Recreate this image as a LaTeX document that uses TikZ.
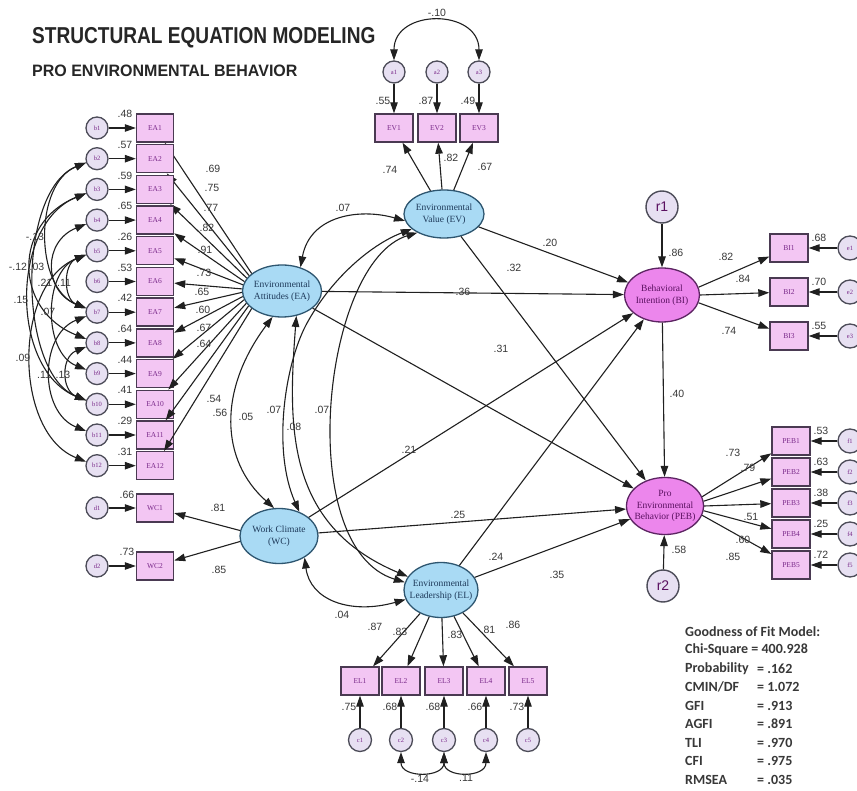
\documentclass[tikz,border=0pt]{standalone}
\usepackage{graphicx}
\usepackage{fontspec}
\setmainfont{Liberation Serif}
\setsansfont{Liberation Sans}
\newfontfamily\fitfont{Carlito}
\usetikzlibrary{shapes.geometric,arrows.meta}

\definecolor{boxfill}{HTML}{F3C6F3}
\definecolor{boxline}{HTML}{4A3A52}
\definecolor{boxtext}{HTML}{7A2A8A}
\definecolor{latblue}{HTML}{A9DAF4}
\definecolor{latblueline}{HTML}{2E5670}
\definecolor{lattext}{HTML}{1E3A5A}
\definecolor{latpink}{HTML}{EC86EC}
\definecolor{latpinkline}{HTML}{5C2462}
\definecolor{pinktext}{HTML}{5A1060}
\definecolor{errfill}{HTML}{E7E0F2}
\definecolor{errline}{HTML}{4C4C58}
\definecolor{inkline}{HTML}{202020}
\definecolor{numtext}{HTML}{383838}
\definecolor{titletext}{HTML}{262626}

\tikzset{
  >={Triangle[length=11pt,width=7.5pt]},
  ind/.style={rectangle, draw=boxline, fill=boxfill, line width=1.4pt,
    minimum width=37pt, minimum height=28pt, inner sep=0pt, text=boxtext,
    font=\fontsize{7.5}{7.5}\selectfont},
  err/.style={circle, draw=errline, fill=errfill, line width=1.3pt,
    minimum size=22pt, inner sep=0pt, text=boxtext, font=\fontsize{6.5}{6.5}\selectfont},
  res/.style={circle, draw=errline, fill=errfill, line width=1.4pt,
    minimum size=32pt, inner sep=0pt, text=pinktext, font=\sffamily\fontsize{14}{14}\selectfont},
  exo/.style={ellipse, draw=latblueline, fill=latblue, line width=1.3pt, inner sep=0pt},
  endo/.style={ellipse, draw=latpinkline, fill=latpink, line width=1.3pt, inner sep=0pt},
  exotext/.style={inner sep=0pt, align=center, text=lattext, font=\fontsize{9.5}{11.5}\selectfont},
  endotext/.style={exotext, text=pinktext},
  lbl/.style={inner sep=0pt, text=numtext, font=\sffamily\fontsize{10.5}{10.5}\selectfont},
  pth/.style={draw=inkline, line width=1.1pt, ->},
  cov/.style={draw=inkline, line width=1.1pt, <->},
}

\begin{document}
\begin{tikzpicture}[x=1pt,y=-1pt]
\useasboundingbox (0,0) rectangle (857,791);
\fill[white] (0,0) rectangle (857,791);

% ---------- headings ----------
\node[anchor=west, inner sep=0pt, text=titletext] (head) at (32,38)
  {\scalebox{0.83}[1]{\sffamily\bfseries\fontsize{23}{23}\selectfont STRUCTURAL EQUATION MODELING}};
\node[anchor=west, inner sep=0pt, text=titletext] (subhead) at (32,71)
  {\scalebox{0.97}[1]{\sffamily\bfseries\fontsize{16.5}{16.5}\selectfont PRO ENVIRONMENTAL BEHAVIOR}};

% ---------- latent variables ----------
\node[exo, minimum width=79pt, minimum height=52pt] (EA) at (282,291) {};
\node[exotext] (EAtext) at (EA) {Environmental\\Attitudes (EA)};
\node[exo, minimum width=80pt, minimum height=48pt] (EV) at (444,214) {};
\node[exotext] (EVtext) at (EV) {Environmental\\Value (EV)};
\node[exo, minimum width=78pt, minimum height=55pt] (WC) at (279,536) {};
\node[exotext] (WCtext) at (WC) {Work Climate\\(WC)};
\node[exo, minimum width=74pt, minimum height=55pt] (EL) at (441,590) {};
\node[exotext] (ELtext) at (EL) {Environmental\\Leadership (EL)};
\node[endo, minimum width=75pt, minimum height=54pt] (BI) at (662,295) {};
\node[endotext] (BItext) at (BI) {Behavioral\\Intention (BI)};
\node[endo, minimum width=77pt, minimum height=57pt] (PEB) at (665,506) {};
\node[endotext] (PEBtext) at (PEB) {Pro\\Environmental\\Behavior (PEB)};
\node[res] (r1) at (662,207) {r1};
\node[res] (r2) at (663,586) {r2};

% ---------- EA measurement block ----------
\foreach \i/\v in {1/.48,2/.57,3/.59,4/.65,5/.26,6/.53,7/.42,8/.64,9/.44,10/.41,11/.29,12/.31}{
  \pgfmathsetmacro\yy{128+30.7*(\i-1)}
  \pgfmathtruncatemacro\ang{150+(\i-1)*60/11}
  \node[ind] (EA\i) at (155,\yy) {EA\i};
  \node[err] (ea\i) at (97,\yy) {b\i};
  \draw[pth] (ea\i) -- (EA\i);
  \draw[pth] (EA.\ang) -- (EA\i);
  \node[lbl] (vea\i) at (125,\yy-14) {\v};
}
\foreach \x/\y/\s [count=\k] in {213/169/.69, 212/188/.75, 211/208/.77, 207/228/.82,
    205/250/.91, 204/273/.73, 202/292/.65, 203/310/.60, 204/328/.67, 204/344/.64,
    214/399/.54, 220/413/.56}
  \node[lbl] (lea\k) at (\x,\y) {\s};

% correlated EA error terms
\foreach \p/\q/\c in {2/7/52, 3/8/73, 4/7/43, 2/10/69, 5/7/23, 3/10/76, 5/9/43,
    5/12/73, 7/11/47, 8/10/25}
  \draw[cov] (ea\p.200) .. controls +(-\c,0.4*\c) and +(-\c,-0.4*\c) .. (ea\q.160);
\foreach \x/\y/\s [count=\k] in {35/237/-.13, 18/267/-.12, 37/267/.03, 45/283/.21,
    64/283/.11, 21/300/.15, 48/312/.07, 23/358/.09, 44/375/.11, 63/375/.13}
  \node[lbl] (cea\k) at (\x,\y) {\s};

% ---------- WC measurement block ----------
\node[ind] (WC1) at (155,508) {WC1};
\node[ind] (WC2) at (155,566) {WC2};
\node[err] (wd1) at (97,508) {d1};
\node[err] (wd2) at (97,566) {d2};
\draw[pth] (wd1) -- (WC1);
\draw[pth] (wd2) -- (WC2);
\draw[pth] (WC.172) -- (WC1);
\draw[pth] (WC.188) -- (WC2);
\node[lbl] (vwc1) at (127,495) {.66};
\node[lbl] (vwc2) at (127,552) {.73};
\node[lbl] (lwc1) at (218,508) {.81};
\node[lbl] (lwc2) at (219,570) {.85};

% ---------- EV measurement block ----------
\foreach \i/\x/\v in {1/394/.55, 2/437/.87, 3/479/.49}{
  \node[ind, minimum width=38pt, minimum height=28pt] (EV\i) at (\x,128) {EV\i};
  \node[err] (a\i) at (\x,72) {a\i};
  \draw[pth] (a\i) -- (EV\i);
  \draw[pth] (EV) -- (EV\i);
  \node[lbl] (vev\i) at (\x-11,101) {\v};
}
\node[lbl] (lev1) at (390,170) {.74};
\node[lbl] (lev2) at (451,158) {.82};
\node[lbl] (lev3) at (485,167) {.67};
\draw[cov] (a1.north) .. controls +(0,-52) and +(0,-52) .. (a3.north);
\node[lbl] (cev) at (437,13) {-.10};

% ---------- BI measurement block ----------
\foreach \i/\y/\v/\a in {1/248/.68/12, 2/292/.70/0, 3/336/.55/-12}{
  \node[ind, minimum width=38pt, minimum height=28pt] (BI\i) at (789,\y) {BI\i};
  \node[err, minimum size=24pt] (be\i) at (850,\y) {e\i};
  \draw[pth] (be\i) -- (BI\i);
  \draw[pth] (BI.\a) -- (BI\i);
  \node[lbl] (vbi\i) at (819,\y-10) {\v};
}
\node[lbl] (lbi1) at (726,257) {.82};
\node[lbl] (lbi2) at (743,279) {.84};
\node[lbl] (lbi3) at (729,331) {.74};

% ---------- PEB measurement block ----------
\foreach \i/\v/\a in {1/.53/14, 2/.63/7, 3/.38/0, 4/.25/-7, 5/.72/-14}{
  \pgfmathsetmacro\yy{441+31*(\i-1)}
  \node[ind, minimum width=38pt, minimum height=28pt] (PEB\i) at (791,\yy) {PEB\i};
  \node[err, minimum size=24pt] (pf\i) at (850,\yy) {f\i};
  \draw[pth] (pf\i) -- (PEB\i);
  \draw[pth] (PEB.\a) -- (PEB\i);
  \node[lbl] (vpeb\i) at (821,\yy-10) {\v};
}
\node[lbl] (lpeb1) at (733,453) {.73};
\node[lbl] (lpeb2) at (748,468) {.79};
\node[lbl] (lpeb3) at (751,517) {.51};
\node[lbl] (lpeb4) at (743,540) {.60};
\node[lbl] (lpeb5) at (733,557) {.85};

% ---------- EL measurement block ----------
\foreach \i/\x/\v in {1/360/.75, 2/401/.68, 3/444/.68, 4/486/.66, 5/528/.73}{
  \node[ind, minimum width=38pt, minimum height=28pt] (EL\i) at (\x,681) {EL\i};
  \node[err, minimum size=23pt] (c\i) at (\x,740) {c\i};
  \draw[pth] (c\i) -- (EL\i);
  \draw[pth] (EL) -- (EL\i);
  \node[lbl] (vel\i) at (\x-11,707) {\v};
}
\node[lbl] (lel1) at (375,627) {.87};
\node[lbl] (lel2) at (400,632) {.83};
\node[lbl] (lel3) at (455,635) {.83};
\node[lbl] (lel4) at (488,630) {.81};
\node[lbl] (lel5) at (513,625) {.86};
\draw[cov] (c2.south) .. controls +(0,26) and +(0,26) .. (c3.south);
\draw[cov] (c3.south) .. controls +(0,26) and +(0,26) .. (c4.south);
\node[lbl] (cel1) at (420,779) {-.14};
\node[lbl] (cel2) at (466,778) {.11};

% ---------- structural paths ----------
\draw[pth] (EA) -- (BI);
\draw[pth] (EV) -- (BI);
\draw[pth] (EV) -- (PEB);
\draw[pth] (EA) -- (PEB);
\draw[pth] (WC) -- (BI);
\draw[pth] (WC) -- (PEB);
\draw[pth] (EL) -- (BI);
\draw[pth] (EL) -- (PEB);
\draw[pth] (BI) -- (PEB);
\draw[pth] (r1) -- (BI);
\draw[pth] (r2) -- (PEB);
\node[lbl] (s1) at (463,292) {.36};
\node[lbl] (s2) at (550,243) {.20};
\node[lbl] (s3) at (514,268) {.32};
\node[lbl] (s4) at (501,349) {.31};
\node[lbl] (s5) at (409,450) {.21};
\node[lbl] (s6) at (458,515) {.25};
\node[lbl] (s7) at (496,557) {.24};
\node[lbl] (s8) at (557,575) {.35};
\node[lbl] (s9) at (677,394) {.40};
\node[lbl] (s10) at (676,253) {.86};
\node[lbl] (s11) at (679,550) {.58};

% ---------- covariances among exogenous factors ----------
\draw[cov] (EA.52) .. controls (310,215) and (360,208) .. (EV.190);
\draw[cov] (EA.250) .. controls (218,390) and (220,460) .. (WC.100);
\draw[cov] (EA.-60) .. controls (288,425) and (285,525) .. (EL.158);
\draw[cov] (EV.205) .. controls (370,245) and (330,280) .. (306,325)
                    .. controls (285,365) and (272,450) .. (WC.50);
\draw[cov] (EV.215) .. controls (322,262) and (293,548) .. (EL.168);
\draw[cov] (WC.-40) .. controls (310,600) and (350,615) .. (EL.195);
\node[lbl] (k1) at (343,208) {.07};
\node[lbl] (k2) at (246,417) {.05};
\node[lbl] (k3) at (274,410) {.07};
\node[lbl] (k4) at (294,427) {.08};
\node[lbl] (k5) at (322,410) {.07};
\node[lbl] (k6) at (342,615) {.04};

% ---------- fit statistics ----------
\begin{scope}[every node/.style={anchor=west, inner sep=0pt, text=numtext,
    font=\fitfont\bfseries\fontsize{14}{14}\selectfont}]
\node (gof0) at (685,632) {Goodness of Fit Model:};
\node (gof1) at (685,650) {Chi-Square = 400.928};
\node (gof2) at (685,669) {Probability};
\node (gof2v) at (757,669) {= .162};
\node (gof3) at (685,687) {CMIN/DF};
\node (gof3v) at (757,687) {= 1.072};
\node (gof4) at (685,706) {GFI};
\node (gof4v) at (757,706) {= .913};
\node (gof5) at (685,724) {AGFI};
\node (gof5v) at (757,724) {= .891};
\node (gof6) at (685,743) {TLI};
\node (gof6v) at (757,743) {= .970};
\node (gof7) at (685,761) {CFI};
\node (gof7v) at (757,761) {= .975};
\node (gof8) at (685,780) {RMSEA};
\node (gof8v) at (757,780) {= .035};
\end{scope}
\end{tikzpicture}
\end{document}
